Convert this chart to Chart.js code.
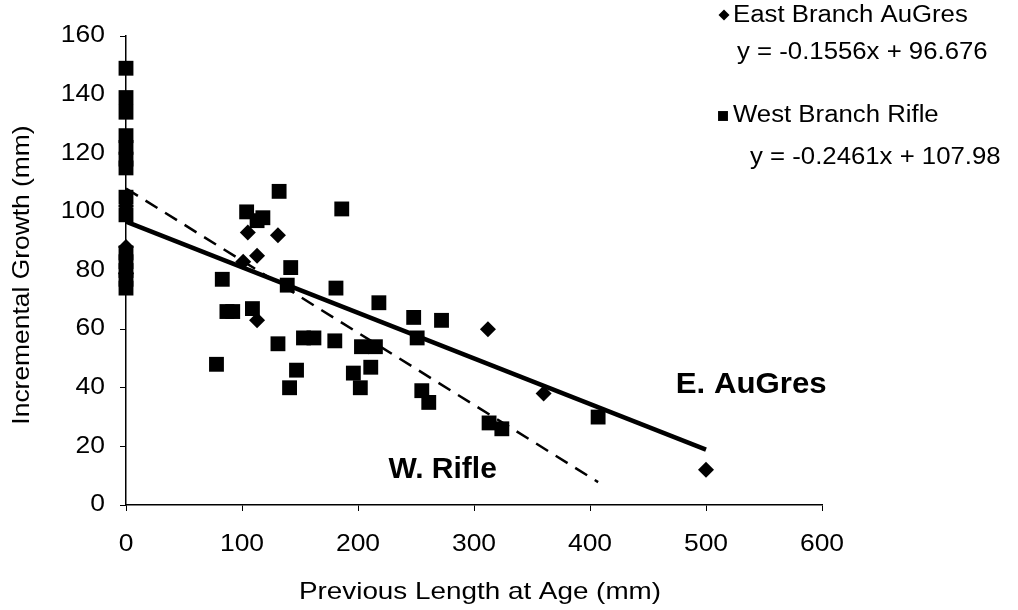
<!DOCTYPE html>
<html>
<head>
<meta charset="utf-8">
<title>Incremental growth vs previous length at age</title>
<script src="https://cdn.jsdelivr.net/npm/chart.js@4.4.1/dist/chart.umd.min.js"></script>
<style>
  html, body { margin: 0; padding: 0; background: #fff; }
  #wrap { width: 1018px; height: 610px; }
</style>
</head>
<body>
<div id="wrap"><canvas id="growth-chart" width="1018" height="610"></canvas></div>
<script>
// West Branch Rifle (squares): previous length (mm) and incremental growth (mm)
const rifleLength = [
  0, 0, 0, 0, 0, 0, 0, 0, 0, 0, 0, 0, 0, 0,
  132, 104, 113, 118, 186, 142, 83, 139, 181, 218, 248, 251, 87, 92, 109,
  131, 153, 162, 180, 203, 215, 78, 147, 196, 211, 141, 202, 272, 255, 261,
  313, 324, 407
];
const rifleGrowth = [
  149, 139, 134, 126, 122, 118, 115, 105, 99, 86, 83, 80, 77, 74,
  107, 100, 97, 98, 101, 81, 77, 75, 74, 69, 64, 57, 66, 66, 67,
  55, 57, 57, 56, 54, 54, 48, 46, 45, 47, 40, 40, 63, 39, 35,
  28, 26, 30
];

// East Branch AuGres (diamonds)
const augresLength = [0, 0, 0, 101, 105, 113, 131, 113, 312, 360, 500];
const augresGrowth = [102, 88, 79, 83, 93, 85, 92, 63, 60, 38, 12];

// linear trend fits, [AuGres, Rifle]
const seriesNames = ['East Branch AuGres', 'West Branch Rifle'];
const shortNames = ['E. AuGres', 'W. Rifle'];
const trendSlope = [-0.1556, -0.2461];
const trendIntercept = [96.676, 107.98];

const xTicks = [0, 100, 200, 300, 400, 500, 600];
const yTicks = [0, 20, 40, 60, 80, 100, 120, 140, 160];

const FONT = '"Liberation Sans", Arial, Helvetica, sans-serif';
// the lettering in this figure runs a bit wide, so text gets a horizontal stretch
const WIDE = 1.15;

function toPoints(xs, ys) {
  return xs.map((x, i) => ({ x: x, y: ys[i] }));
}

// trend line across the range of the series' own x values
function trendPoints(k, xs) {
  const lo = Math.min(...xs);
  const hi = Math.max(...xs);
  return [lo, hi].map(x => ({ x: x, y: trendSlope[k] * x + trendIntercept[k] }));
}

function equationText(k) {
  return `y = ${trendSlope[k]}x + ${trendIntercept[k]}`;
}

function drawText(ctx, text, x, y, o) {
  ctx.save();
  ctx.translate(x, y);
  if (o.rotate) ctx.rotate(o.rotate);
  ctx.scale(o.stretch || 1, 1);
  ctx.font = `${o.bold ? 'bold ' : ''}${o.size}px ${FONT}`;
  ctx.textAlign = o.align || 'left';
  ctx.textBaseline = 'middle';
  ctx.fillStyle = '#000';
  ctx.fillText(text, 0, 0);
  ctx.restore();
}

// tick labels, titles, in-plot series names and the legend block
const textLayer = {
  id: 'textLayer',
  afterDraw(chart) {
    const { ctx, scales: { x, y } } = chart;

    xTicks.forEach(v => {
      drawText(ctx, String(v), x.getPixelForValue(v), 545, { size: 23, align: 'center', stretch: WIDE });
    });
    yTicks.forEach(v => {
      drawText(ctx, String(v), 105, y.getPixelForValue(v), { size: 23, align: 'right', stretch: WIDE });
    });

    drawText(ctx, 'Previous Length at Age (mm)', 480, 592, { size: 24, align: 'center', stretch: 1.16 });
    drawText(ctx, 'Incremental Growth (mm)', 22, 275, { size: 24, align: 'center', stretch: 1.1, rotate: -Math.PI / 2 });

    drawText(ctx, shortNames[0], x.getPixelForValue(539), y.getPixelForValue(41), { size: 30, bold: true, align: 'center', stretch: 1.04 });
    drawText(ctx, shortNames[1], x.getPixelForValue(273), y.getPixelForValue(12), { size: 30, bold: true, align: 'center', stretch: 1.0 });

    ctx.save();
    ctx.fillStyle = '#000';
    Chart.helpers.drawPoint(ctx, { pointStyle: 'rectRot', radius: 5.5, rotation: 0, borderWidth: 0 }, 724, 15);
    Chart.helpers.drawPoint(ctx, { pointStyle: 'rect', radius: 7, rotation: 0, borderWidth: 0 }, 723, 116);
    ctx.restore();
    const legendFont = { size: 23, stretch: 1.12 };
    drawText(ctx, seriesNames[0], 733, 16, legendFont);
    drawText(ctx, equationText(0), 737, 53, legendFont);
    drawText(ctx, seriesNames[1], 733, 116, legendFont);
    drawText(ctx, equationText(1), 750, 158, legendFont);
  }
};

const axisStyle = {
  grid: { drawOnChartArea: false, drawTicks: true, tickLength: 6, color: '#000', lineWidth: 1 },
  border: { display: true, color: '#000', width: 1.5 }
};

new Chart(document.getElementById('growth-chart'), {
  type: 'scatter',
  data: {
    datasets: [
      {
        label: seriesNames[0] + ' trend',
        data: trendPoints(0, augresLength),
        showLine: true,
        borderColor: '#000',
        borderWidth: 4.5,
        pointRadius: 0,
        clip: false,
        order: 0
      },
      {
        label: seriesNames[1] + ' trend',
        data: trendPoints(1, rifleLength),
        showLine: true,
        borderColor: '#000',
        borderWidth: 2.5,
        borderDash: [14, 9],
        pointRadius: 0,
        clip: false,
        order: 0
      },
      {
        label: seriesNames[0],
        data: toPoints(augresLength, augresGrowth),
        pointStyle: 'rectRot',
        pointRadius: 8,
        backgroundColor: '#000',
        borderWidth: 0,
        clip: false,
        order: 1
      },
      {
        label: seriesNames[1],
        data: toPoints(rifleLength, rifleGrowth),
        pointStyle: 'rect',
        pointRadius: 10.5,
        backgroundColor: '#000',
        borderWidth: 0,
        clip: false,
        order: 1
      }
    ]
  },
  options: {
    responsive: false,
    animation: false,
    events: [],
    layout: { padding: { top: 36, right: 196, left: 0, bottom: 0 } },
    plugins: { legend: { display: false }, tooltip: { enabled: false } },
    scales: {
      x: {
        type: 'linear',
        min: 0,
        max: 600,
        afterBuildTicks: s => { s.ticks = xTicks.map(v => ({ value: v })); },
        afterFit: s => { s.height = 105; },
        ticks: { display: false },
        ...axisStyle
      },
      y: {
        type: 'linear',
        min: 0,
        max: 160,
        afterBuildTicks: s => { s.ticks = yTicks.map(v => ({ value: v })); },
        afterFit: s => { s.width = 126; },
        ticks: { display: false },
        ...axisStyle
      }
    }
  },
  plugins: [textLayer]
});
</script>
</body>
</html>
